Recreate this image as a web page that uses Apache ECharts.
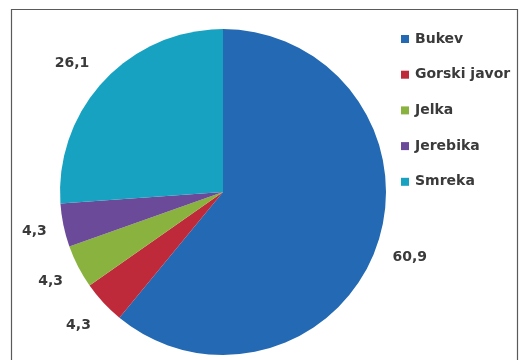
<!DOCTYPE html>
<html>
<head>
<meta charset="utf-8">
<script src="https://cdn.jsdelivr.net/npm/echarts@6/dist/echarts.min.js"></script>
<style>
  html, body { margin: 0; padding: 0; background: #ffffff; }
  #chart { width: 520px; height: 360px; }
</style>
</head>
<body>
<div id="chart"></div>
<script>
// Tree species share (%)
const species = ['Bukev', 'Gorski javor', 'Jelka', 'Jerebika', 'Smreka'];
const shares = [60.9, 4.3, 4.3, 4.3, 26.1];
const colors = ['#2369B3', '#BF2A3A', '#8AB23F', '#6A4A99', '#16A2C0'];

const fontFamily = '"DejaVu Sans", sans-serif';

// small nudges so the outside labels sit clear of the rim
const labelNudge = [[0, 5], [0, 11], [0, 7], [0, 3], [-2, -6]];

const chart = echarts.init(document.getElementById('chart'), null, { renderer: 'canvas' });

chart.setOption({
  animation: false,
  backgroundColor: '#ffffff',
  color: colors,
  graphic: [{
    type: 'rect',
    shape: { x: 11.5, y: 9.5, width: 506, height: 380 },
    style: { fill: 'none', stroke: '#5a5a5a', lineWidth: 1.2 },
    silent: true
  }],
  legend: {
    orient: 'vertical',
    left: 396,
    top: 26,
    itemWidth: 8,
    itemHeight: 8,
    itemGap: 19.7,
    icon: 'rect',
    textStyle: {
      fontFamily: fontFamily,
      fontSize: 14,
      fontWeight: 'bold',
      color: '#3a3a3a',
      lineHeight: 16,
      padding: [0, 0, 0, 1]
    },
    data: species
  },
  series: [{
    type: 'pie',
    center: [223, 192],
    radius: 163,
    startAngle: 90,
    clockwise: true,
    avoidLabelOverlap: false,
    itemStyle: { borderWidth: 0 },
    label: {
      show: true,
      position: 'outside',
      distanceToLabelLine: 0,
      fontFamily: fontFamily,
      fontSize: 14,
      fontWeight: 'bold',
      color: '#3a3a3a',
      formatter: p => String(p.value).replace('.', ',')
    },
    labelLine: { show: false, length: 17, length2: 0 },
    labelLayout: p => ({ dx: labelNudge[p.dataIndex][0], dy: labelNudge[p.dataIndex][1] }),
    emphasis: { disabled: true },
    data: species.map((name, i) => ({ name: name, value: shares[i] }))
  }]
});
</script>
</body>
</html>
